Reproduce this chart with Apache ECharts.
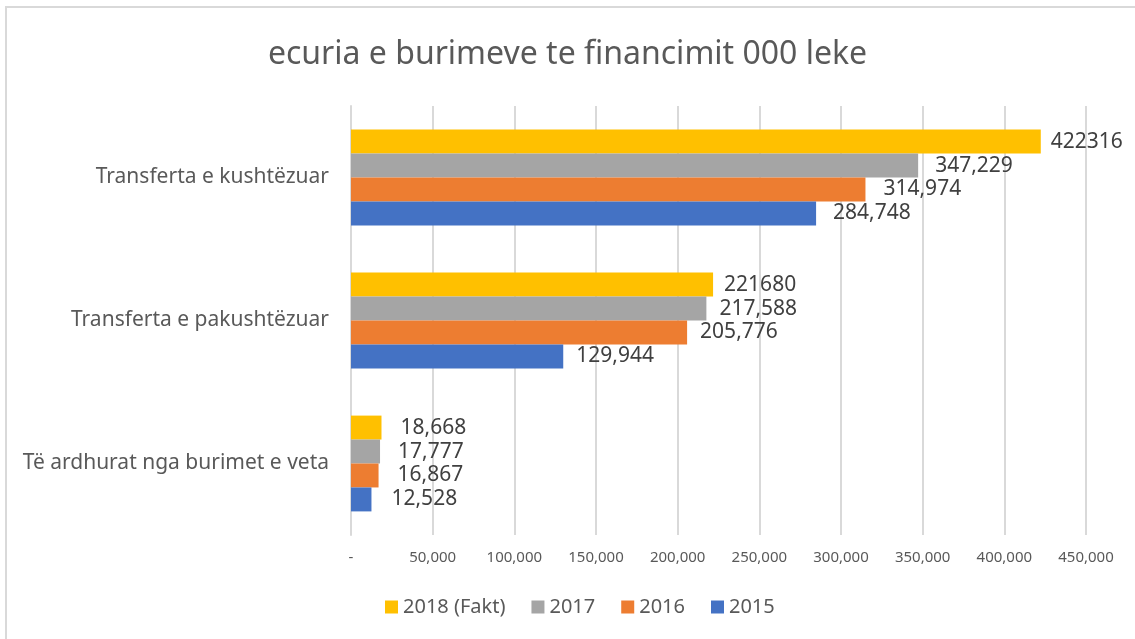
<!DOCTYPE html>
<html>
<head>
<meta charset="utf-8">
<script src="https://cdn.jsdelivr.net/npm/echarts@6/dist/echarts.min.js"></script>
<style>
  html, body { margin: 0; padding: 0; background: #fff; }
  #main { width: 1135px; height: 639px; }
</style>
</head>
<body>
<div id="main"></div>
<script>
// kategoritë (nga poshtë lart)
var categories = ['Të ardhurat nga burimet e veta', 'Transferta e pakushtëzuar', 'Transferta e kushtëzuar'];
var vlera2015 = [12528, 129944, 284748];
var vlera2016 = [16867, 205776, 314974];
var vlera2017 = [17777, 217588, 347229];
var vlera2018 = [18668, 221680, 422316];
// etiketat e 2018 ne grafikun origjinal nuk kane presje te gjitha
var etiketa2018 = ['18,668', '221680', '422316'];

var chart = echarts.init(document.getElementById('main'));

function fmt(v) {
    return v.toLocaleString('en-US');
}

// hapesira e etiketes nga fundi i shiritit, per kategori
function seri(name, data, color, gaps, labels) {
    return {
        name: name,
        type: 'bar',
        data: data.map(function (v, i) {
            return { value: v, label: { distance: gaps[i] } };
        }),
        barGap: '0%',
        barCategoryGap: '33%',
        itemStyle: { color: color },
        label: {
            show: true,
            position: 'right',
            color: '#404040',
            fontSize: 21,
            fontFamily: 'Noto Sans',
            formatter: function (p) {
                return labels ? labels[p.dataIndex] : fmt(p.value);
            }
        }
    };
}

var option = {
    backgroundColor: '#fff',
    animation: false,
    title: {
        text: 'ecuria e burimeve te financimit 000 leke',
        left: 'center',
        top: 34,
        textStyle: {
            color: '#595959',
            fontSize: 32,
            fontWeight: 'normal',
            fontFamily: 'Noto Sans'
        }
    },
    legend: {
        bottom: 17,
        left: 380,
        data: ['2018 (Fakt)', '2017', '2016', '2015'],
        icon: 'rect',
        itemWidth: 13,
        itemHeight: 13,
        itemGap: 26,
        textStyle: { color: '#595959', fontSize: 20, fontFamily: 'Noto Sans' }
    },
    grid: { left: 351, right: 49, top: 106, bottom: 104, containLabel: false },
    xAxis: {
        type: 'value',
        min: 0,
        max: 450000,
        interval: 50000,
        axisLine: { show: false },
        axisTick: { show: false },
        splitLine: { lineStyle: { color: '#D9D9D9', width: 2 } },
        axisLabel: {
            color: '#595959',
            fontSize: 15,
            fontFamily: 'Liberation Sans Narrow, Noto Sans',
            margin: 15,
            formatter: function (v) {
                return v === 0 ? '-' : fmt(v);
            }
        }
    },
    yAxis: {
        type: 'category',
        data: categories,
        axisLine: { show: true, lineStyle: { color: '#D9D9D9', width: 2 } },
        axisTick: { show: false },
        axisLabel: {
            color: '#595959',
            fontSize: 21,
            fontFamily: 'Noto Sans',
            margin: 22
        }
    },
    graphic: [{
        type: 'polyline',
        shape: { points: [[6, 639], [6, 7], [1135, 7]] },
        style: { fill: 'none', stroke: '#D9D9D9', lineWidth: 2 },
        silent: true
    }],
    series: [
        seri('2018 (Fakt)', vlera2018, '#FFC000', [19, 11, 10], etiketa2018),
        seri('2017', vlera2017, '#A5A5A5', [18, 13, 17]),
        seri('2016', vlera2016, '#ED7D31', [19, 13, 18]),
        seri('2015', vlera2015, '#4472C4', [20, 13, 17])
    ]
};

chart.setOption(option);
</script>
</body>
</html>
